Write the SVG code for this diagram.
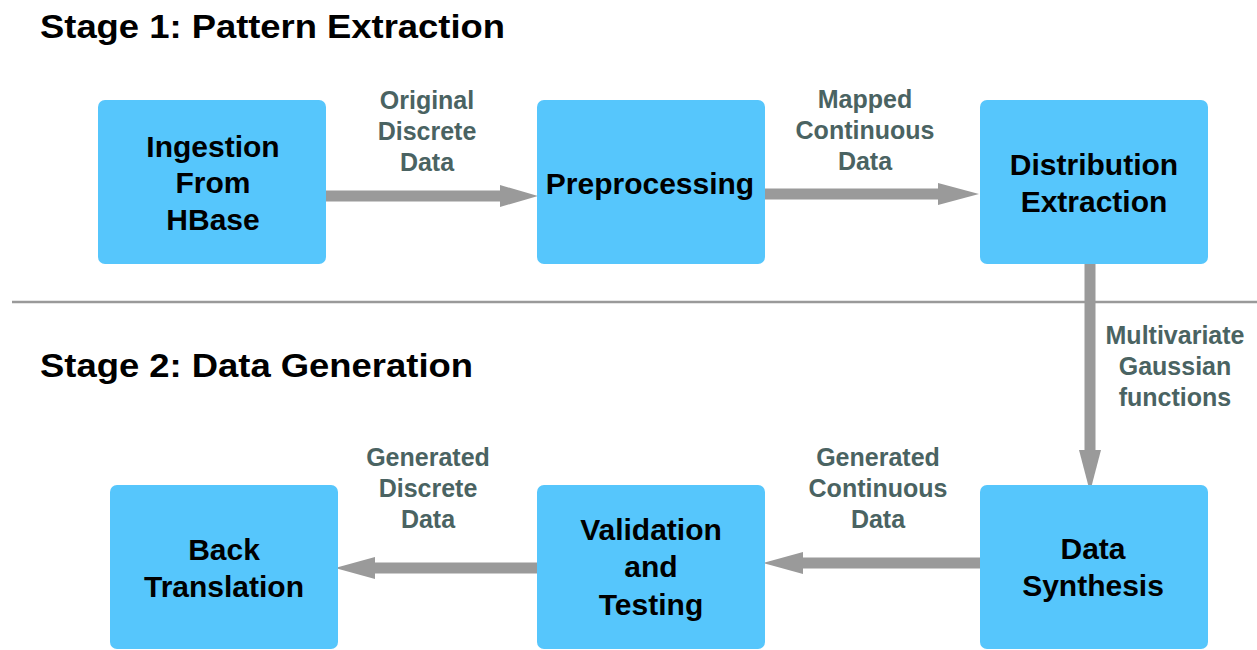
<svg xmlns="http://www.w3.org/2000/svg" width="1257" height="650" viewBox="0 0 1257 650">
<style>
.node rect{fill:#56c6fc;}
.nt{font-family:"Liberation Sans",Arial,sans-serif;font-weight:bold;font-size:30px;fill:#000;text-anchor:middle;}
.lbl{font-family:"Liberation Sans",Arial,sans-serif;font-weight:bold;font-size:25px;fill:#4a6362;text-anchor:middle;}
.title{font-family:"Liberation Sans",Arial,sans-serif;font-weight:bold;font-size:34px;fill:#000;}
.shaft{stroke:#9a9a9a;stroke-width:11;fill:none;}
.head{fill:#9a9a9a;}
</style>
<rect width="1257" height="650" fill="#fff"/>
<text class="title" x="40" y="38" textLength="465" lengthAdjust="spacingAndGlyphs">Stage 1: Pattern Extraction</text>
<text class="title" x="40" y="377" textLength="433" lengthAdjust="spacingAndGlyphs">Stage 2: Data Generation</text>
<line x1="12" y1="302" x2="1257" y2="302" stroke="#9a9a9a" stroke-width="2.5"/>

<g id="connectors">
  <line class="shaft" x1="326" y1="196" x2="502" y2="196"/>
  <polygon class="head" points="500,185 538,196 500,207"/>
  <line class="shaft" x1="765" y1="194" x2="940" y2="194"/>
  <polygon class="head" points="938,183 979,194 938,205"/>
  <line class="shaft" x1="1090" y1="264" x2="1090" y2="452"/>
  <polygon class="head" points="1079,450 1090,492 1101,450"/>
  <line class="shaft" x1="980" y1="563" x2="801" y2="563"/>
  <polygon class="head" points="803,552 763,563 803,574"/>
  <line class="shaft" x1="537" y1="568" x2="373" y2="568"/>
  <polygon class="head" points="375,557 335,568 375,579"/>
  <g id="label-original">
    <text class="lbl" x="427" y="109">Original</text>
    <text class="lbl" x="427" y="140">Discrete</text>
    <text class="lbl" x="427" y="171">Data</text>
  </g>
  <g id="label-mapped">
    <text class="lbl" x="865" y="108">Mapped</text>
    <text class="lbl" x="865" y="139">Continuous</text>
    <text class="lbl" x="865" y="170">Data</text>
  </g>
  <g id="label-mvg">
    <text class="lbl" x="1175" y="344">Multivariate</text>
    <text class="lbl" x="1175" y="375">Gaussian</text>
    <text class="lbl" x="1175" y="406">functions</text>
  </g>
  <g id="label-gencont">
    <text class="lbl" x="878" y="466">Generated</text>
    <text class="lbl" x="878" y="497">Continuous</text>
    <text class="lbl" x="878" y="528">Data</text>
  </g>
  <g id="label-gendisc">
    <text class="lbl" x="428" y="466">Generated</text>
    <text class="lbl" x="428" y="497">Discrete</text>
    <text class="lbl" x="428" y="528">Data</text>
  </g>
</g>

<g id="ingestion" class="node">
  <rect x="98" y="100" width="228" height="164" rx="7"/>
  <text class="nt" x="213" y="157">Ingestion</text>
  <text class="nt" x="213" y="193">From</text>
  <text class="nt" x="213" y="230">HBase</text>
</g>
<g id="preprocessing" class="node">
  <rect x="537" y="100" width="228" height="164" rx="7"/>
  <text class="nt" x="650" y="194">Preprocessing</text>
</g>
<g id="distribution" class="node">
  <rect x="980" y="100" width="228" height="164" rx="7"/>
  <text class="nt" x="1094" y="175">Distribution</text>
  <text class="nt" x="1094" y="212">Extraction</text>
</g>
<g id="synthesis" class="node">
  <rect x="980" y="485" width="228" height="164" rx="7"/>
  <text class="nt" x="1093" y="559">Data</text>
  <text class="nt" x="1093" y="596">Synthesis</text>
</g>
<g id="validation" class="node">
  <rect x="537" y="485" width="228" height="164" rx="7"/>
  <text class="nt" x="651" y="540">Validation</text>
  <text class="nt" x="651" y="577">and</text>
  <text class="nt" x="651" y="615">Testing</text>
</g>
<g id="backtranslation" class="node">
  <rect x="110" y="485" width="228" height="164" rx="7"/>
  <text class="nt" x="224" y="560">Back</text>
  <text class="nt" x="224" y="597">Translation</text>
</g>
</svg>
